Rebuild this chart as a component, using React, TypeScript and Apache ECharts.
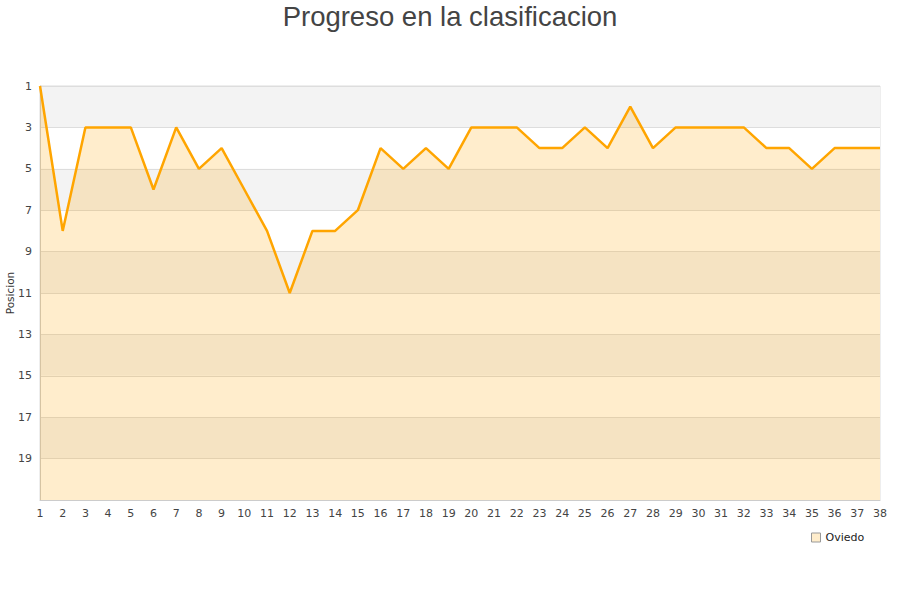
import React, { useEffect, useRef } from "react";
import * as echarts from "echarts";

const jornadas: string[] = [
  "1","2","3","4","5","6","7","8","9","10","11","12","13","14","15","16","17","18","19",
  "20","21","22","23","24","25","26","27","28","29","30","31","32","33","34","35","36","37","38",
];
const posiciones: number[] = [
  1, 8, 3, 3, 3, 6, 3, 5, 4, 6, 8, 11, 8, 8, 7, 4, 5, 4, 5,
  3, 3, 3, 4, 4, 3, 4, 2, 4, 3, 3, 3, 3, 4, 4, 5, 4, 4, 4,
];
const teamName = "Oviedo";
const titleText = "Progreso en la clasificacion";
const yName = "Posicion";

export default function App() {
  const ref = useRef<HTMLDivElement>(null);
  useEffect(() => {
    if (!ref.current) return;
    const chart = echarts.init(ref.current, null, { renderer: "svg" });
    chart.setOption({
      animation: false,
      backgroundColor: "#ffffff",
      title: {
        text: titleText,
        left: "center",
        top: -3,
        textStyle: {
          fontFamily: "Liberation Sans, Arial, sans-serif",
          fontSize: 27.5,
          fontWeight: "normal",
          color: "#444444",
        },
      },
      legend: {
        data: [teamName],
        left: 806,
        top: 527,
        icon: "rect",
        itemWidth: 9,
        itemHeight: 9,
        itemGap: 6,
        itemStyle: { color: "#ffedcc", borderColor: "#999999", borderWidth: 1 },
        textStyle: { fontFamily: "DejaVu Sans, sans-serif", fontSize: 11, color: "#222222" },
      },
      grid: {
        left: 40,
        right: 20,
        top: 86,
        bottom: 100,
        outerBoundsMode: "none",
        containLabel: false,
        show: true,
        borderColor: "#dddddd",
        borderWidth: 1,
        backgroundColor: "transparent",
      },
      xAxis: {
        type: "category",
        data: jornadas,
        boundaryGap: false,
        axisLine: { lineStyle: { color: "#cccccc" } },
        axisTick: { show: false },
        axisLabel: {
          margin: 8,
          interval: 0,
          fontFamily: "DejaVu Sans, sans-serif",
          fontSize: 11,
          color: "#444444",
        },
        splitLine: { show: false },
      },
      yAxis: {
        type: "value",
        inverse: true,
        min: 1,
        max: 21,
        interval: 2,
        name: yName,
        nameLocation: "middle",
        nameGap: 25,
        nameMoveOverlap: false,
        nameTextStyle: { fontFamily: "DejaVu Sans, sans-serif", fontSize: 10.5, color: "#333333" },
        axisLine: { show: true, lineStyle: { color: "#cccccc" } },
        axisTick: { show: false },
        axisLabel: {
          margin: 8,
          fontFamily: "DejaVu Sans, sans-serif",
          fontSize: 11,
          color: "#444444",
          formatter: (v: number) => (v >= 21 ? "" : String(v)),
        },
        splitLine: { show: true, lineStyle: { color: "#dddddd" } },
        splitArea: { show: true, areaStyle: { color: ["#f3f3f3", "#ffffff"] } },
      },
      series: [
        {
          name: teamName,
          type: "line",
          data: posiciones,
          symbol: "none",
          showSymbol: false,
          lineStyle: { color: "#ffa500", width: 2.5 },
          itemStyle: { color: "#ffedcc", borderColor: "#999999" },
          areaStyle: { color: "#ffa500", opacity: 0.2, origin: "end" },
        },
      ],
    });
    return () => chart.dispose();
  }, []);
  return (
    <div
      ref={ref}
      style={{ position: "fixed", left: 0, top: 0, width: 900, height: 600 }}
    />
  );
}
